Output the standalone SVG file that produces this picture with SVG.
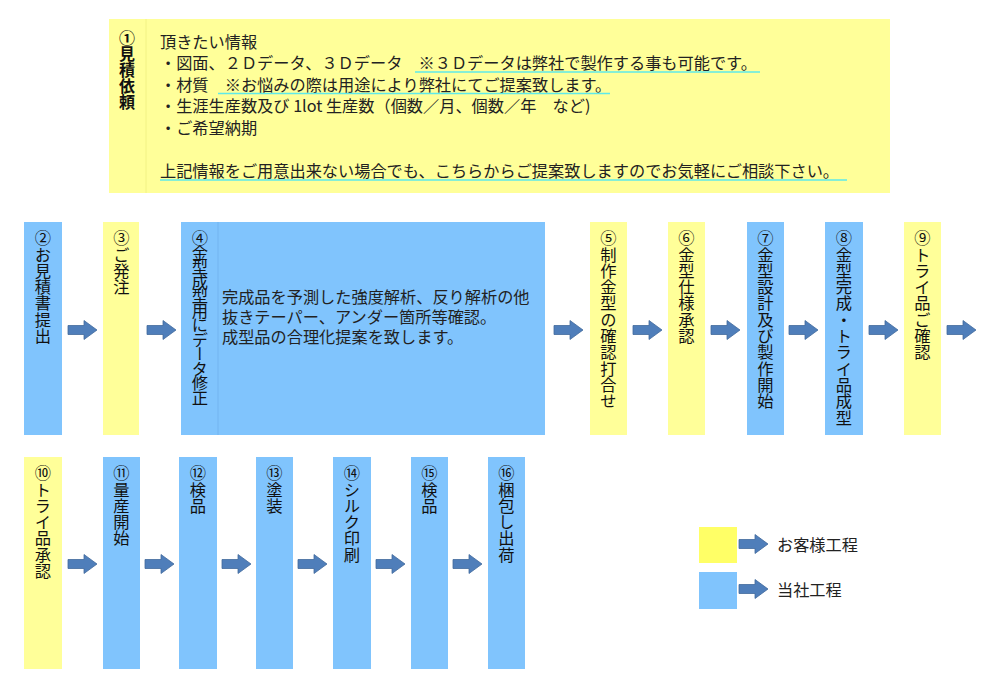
<svg xmlns="http://www.w3.org/2000/svg" xmlns:xlink="http://www.w3.org/1999/xlink" width="1000" height="688" viewBox="0 0 1000 688">
<style>
.y{fill:#FFFF99}
.b{fill:#80C4FD}
.t{font-family:"Noto Sans CJK JP","Noto Sans",sans-serif;fill:#222;font-size:16.2px}
.v{font-family:"Noto Sans CJK JP","Noto Sans",sans-serif;fill:#111;font-size:16.3px;writing-mode:vertical-rl}
.ul{stroke:#5EEAEA;stroke-width:1.6}
.arr{fill:#4F7EBA;stroke:#41699C;stroke-width:0.8}
</style>
<defs>
<path id="ar" class="arr" d="M0,-4.5 H16 V-9.5 L29,0 L16,9.5 V4.5 H0 Z"/>
</defs>
<rect width="1000" height="688" fill="#fff"/>

<g id="n1">
<rect class="y" x="109" y="19" width="781" height="174"/>
<line x1="146" y1="19" x2="146" y2="193" stroke="#F2F285" stroke-width="1"/>
<text class="v" x="127" y="30 46 62 78 94" style="font-weight:bold;font-size:16px">①見積依頼</text>
<g class="t" dominant-baseline="central">
<text x="160" y="40.5">頂きたい情報</text>
<text x="160" y="62">・図面、２Ｄデータ、３Ｄデータ　※３Ｄデータは弊社で製作する事も可能です。</text>
<text x="160" y="83.5">・材質　※お悩みの際は用途により弊社にてご提案致します。</text>
<text x="160" y="105">・生涯生産数及び 1lot 生産数（個数／月、個数／年　など)</text>
<text x="160" y="126.5">・ご希望納期</text>
<text x="160" y="170">上記情報をご用意出来ない場合でも、こちらからご提案致しますのでお気軽にご相談下さい。</text>
</g>
<line class="ul" x1="415" y1="72" x2="760" y2="72"/>
<line class="ul" x1="218" y1="93.5" x2="610" y2="93.5"/>
<line class="ul" x1="160" y1="180" x2="847" y2="180"/>
</g>

<g id="n2"><rect class="b" x="24" y="222" width="38" height="213"/><text class="v" x="43" y="230">②お見積書提出</text></g>
<g id="n3"><rect class="y" x="103" y="222" width="36" height="213"/><text class="v" x="121.5" y="230">③ご発注</text></g>
<g id="n4"><rect class="b" x="181" y="222" width="364" height="213"/>
<line x1="218" y1="222" x2="218" y2="435" stroke="#72B4F0" stroke-width="1"/>
<text class="v" x="200" y="230 244.5 259 273.5 288 302.5 317 331.5 346 360.5 375 389.5">④金型成型用にデータ修正</text>
<g class="t" dominant-baseline="central">
<text x="222" y="296">完成品を予測した強度解析、反り解析の他</text>
<text x="222" y="315.5">抜きテーパー、アンダー箇所等確認。</text>
<text x="222" y="336">成型品の合理化提案を致します。</text>
</g></g>
<g id="n5"><rect class="y" x="590" y="222" width="37" height="213"/><text class="v" x="608.5" y="230">⑤制作金型の確認打合せ</text></g>
<g id="n6"><rect class="y" x="668" y="222" width="37" height="213"/><text class="v" x="686.5" y="230">⑥金型仕様承認</text></g>
<g id="n7"><rect class="b" x="747" y="222" width="37" height="213"/><text class="v" x="765.5" y="230">⑦金型設計及び製作開始</text></g>
<g id="n8"><rect class="b" x="825" y="222" width="38" height="213"/><text class="v" x="844" y="230">⑧金型完成・トライ品成型</text></g>
<g id="n9"><rect class="y" x="904" y="222" width="37" height="213"/><text class="v" x="922.5" y="230">⑨トライ品ご確認</text></g>

<g id="n10"><rect class="y" x="24" y="457" width="38" height="212"/><text class="v" x="43" y="465">⑩トライ品承認</text></g>
<g id="n11"><rect class="b" x="103" y="457" width="37" height="212"/><text class="v" x="121.5" y="465">⑪量産開始</text></g>
<g id="n12"><rect class="b" x="179" y="457" width="38" height="212"/><text class="v" x="198" y="465">⑫検品</text></g>
<g id="n13"><rect class="b" x="256" y="457" width="37" height="212"/><text class="v" x="274.5" y="465">⑬塗装</text></g>
<g id="n14"><rect class="b" x="333" y="457" width="38" height="212"/><text class="v" x="352" y="465">⑭シルク印刷</text></g>
<g id="n15"><rect class="b" x="411" y="457" width="37" height="212"/><text class="v" x="429.5" y="465">⑮検品</text></g>
<g id="n16"><rect class="b" x="488" y="457" width="37" height="212"/><text class="v" x="506.5" y="465">⑯梱包し出荷</text></g>

<g id="connectors">
<use xlink:href="#ar" x="68" y="330"/>
<use xlink:href="#ar" x="147" y="330"/>
<use xlink:href="#ar" x="554" y="330"/>
<use xlink:href="#ar" x="633" y="330"/>
<use xlink:href="#ar" x="711" y="330"/>
<use xlink:href="#ar" x="789" y="330"/>
<use xlink:href="#ar" x="869" y="330"/>
<use xlink:href="#ar" x="947" y="330"/>
<use xlink:href="#ar" x="68" y="564"/>
<use xlink:href="#ar" x="145" y="564"/>
<use xlink:href="#ar" x="222" y="564"/>
<use xlink:href="#ar" x="298" y="564"/>
<use xlink:href="#ar" x="376" y="564"/>
<use xlink:href="#ar" x="453" y="564"/>
</g>

<g id="legend">
<rect x="699" y="527" width="38" height="36" fill="#FFFF66"/>
<use xlink:href="#ar" x="739" y="544"/>
<text class="t" x="777" y="544" dominant-baseline="central">お客様工程</text>
<rect class="b" x="699" y="572" width="38" height="37"/>
<use xlink:href="#ar" x="739" y="589"/>
<text class="t" x="777" y="589" dominant-baseline="central">当社工程</text>
</g>
</svg>
